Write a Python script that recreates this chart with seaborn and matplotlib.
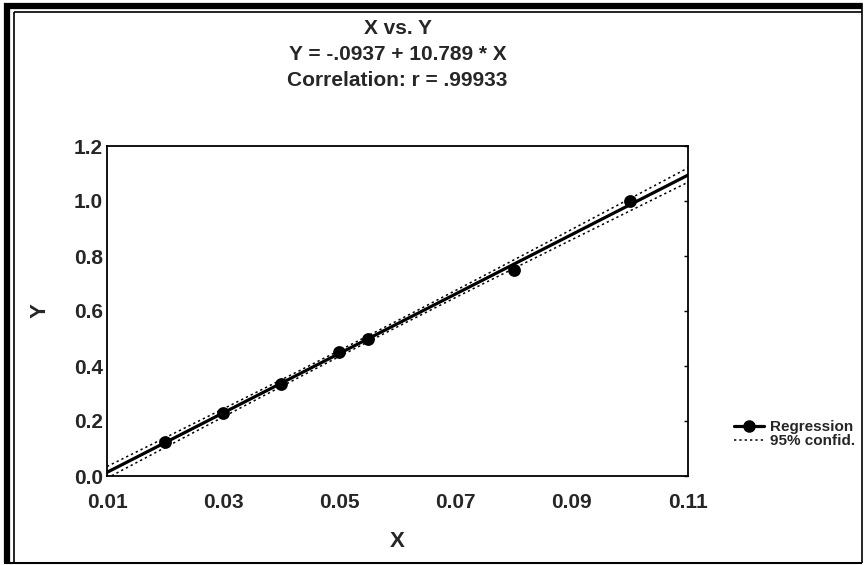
import numpy as np
import pandas as pd
import seaborn as sns
import matplotlib.pyplot as plt
from matplotlib.lines import Line2D
from matplotlib import font_manager

sns.set_theme(style="white")

names = {f.name for f in font_manager.fontManager.ttflist}
narrow = "Liberation Sans Narrow" if "Liberation Sans Narrow" in names else "Liberation Sans"
plt.rcParams["font.family"] = ["Liberation Sans", "DejaVu Sans"]

# data
x_vals = [0.02, 0.03, 0.04, 0.05, 0.055, 0.08, 0.10]
y_vals = [0.125, 0.23, 0.335, 0.45, 0.50, 0.75, 1.00]
x_ticks = [0.01, 0.03, 0.05, 0.07, 0.09, 0.11]
y_ticks = [0.0, 0.2, 0.4, 0.6, 0.8, 1.0, 1.2]
title_lines = ["X vs. Y", "Y = -.0937 + 10.789 * X", "Correlation: r = .99933"]

df = pd.DataFrame({"X": x_vals, "Y": y_vals})

# 95% confidence band for the mean, t(0.975, df=5)
t_crit = 2.5706
n = len(df)
b1, b0 = np.polyfit(df.X, df.Y, 1)
resid = df.Y - (b0 + b1 * df.X)
s = np.sqrt((resid ** 2).sum() / (n - 2))
sxx = ((df.X - df.X.mean()) ** 2).sum()
grid = np.linspace(x_ticks[0], x_ticks[-1], 100)
fit = b0 + b1 * grid
half = t_crit * s * np.sqrt(1 / n + (grid - df.X.mean()) ** 2 / sxx)
band = pd.DataFrame({"X": grid, "lo": fit - half, "hi": fit + half})

fig = plt.figure(figsize=(8.64, 5.65), dpi=100)
ax = fig.add_axes([107 / 864, 1 - 476 / 565, 581 / 864, 330 / 565])
ax.set_xlim(x_ticks[0], x_ticks[-1])
ax.set_ylim(y_ticks[0], y_ticks[-1])

dots = (0, (1.5, 2))
sns.regplot(data=df, x="X", y="Y", ci=None, truncate=False, ax=ax,
            scatter_kws={"s": 85, "color": "black", "alpha": 1, "zorder": 3, "linewidths": 0},
            line_kws={"color": "black", "lw": 2.3})
sns.lineplot(data=band, x="X", y="lo", ax=ax, color="black", lw=1.1, ls=dots)
sns.lineplot(data=band, x="X", y="hi", ax=ax, color="black", lw=1.1, ls=dots)

ax.set_xticks(x_ticks)
ax.set_xticklabels([f"{v:.2f}" for v in x_ticks])
ax.set_yticks(y_ticks)
ax.set_yticklabels([f"{v:.1f}" for v in y_ticks])
ax.tick_params(direction="in", length=3, width=1, color="black", labelsize=15,
               right=True, pad=3)
ax.tick_params(axis="x", pad=12)
for lab in ax.get_xticklabels() + ax.get_yticklabels():
    lab.set_fontweight("bold")
for sp in ax.spines.values():
    sp.set_color("black")
    sp.set_linewidth(1.3)

ax.set_xlabel("X", fontsize=16, fontweight="bold", labelpad=14)
ax.set_ylabel("Y", fontsize=16, fontweight="bold", labelpad=17)

cx = (107 + 688) / 2 / 864
for i, line in enumerate(title_lines):
    fig.text(cx, 1 - (29 + 26 * i) / 565, line, ha="center", va="center",
             fontsize=15, fontweight="bold", family=[narrow, "DejaVu Sans"])

handles = [Line2D([], [], color="black", lw=2.3, marker="o", markersize=8),
           Line2D([], [], color="black", lw=1.1, ls=dots)]
fig.legend(handles, ["Regression", "95% confid."], loc="center left",
           bbox_to_anchor=(726 / 864, 1 - 434 / 565), frameon=False,
           prop={"size": 11, "weight": "bold"}, handlelength=2.0,
           handletextpad=0.4, labelspacing=0.0, borderpad=0)

# figure frame: heavy double line top/left, thin elsewhere
k = dict(color="black", solid_capstyle="butt", transform=fig.transFigure)
fig.add_artist(Line2D([4 / 864, 862 / 864], [1 - 6 / 565] * 2, lw=4.5, **k))
fig.add_artist(Line2D([7 / 864] * 2, [1 - 3 / 565, 1 - 563 / 565], lw=4.5, **k))
fig.add_artist(Line2D([14 / 864, 862 / 864], [1 - 12 / 565] * 2, lw=1.2, **k))
fig.add_artist(Line2D([14 / 864] * 2, [1 - 12 / 565, 1 - 563 / 565], lw=1.2, **k))
fig.add_artist(Line2D([862 / 864] * 2, [1 - 3 / 565, 1 - 563 / 565], lw=1.2, **k))
fig.add_artist(Line2D([4 / 864, 862 / 864], [1 - 563 / 565] * 2, lw=1.5, **k))

fig.savefig("out.png", dpi=100)
